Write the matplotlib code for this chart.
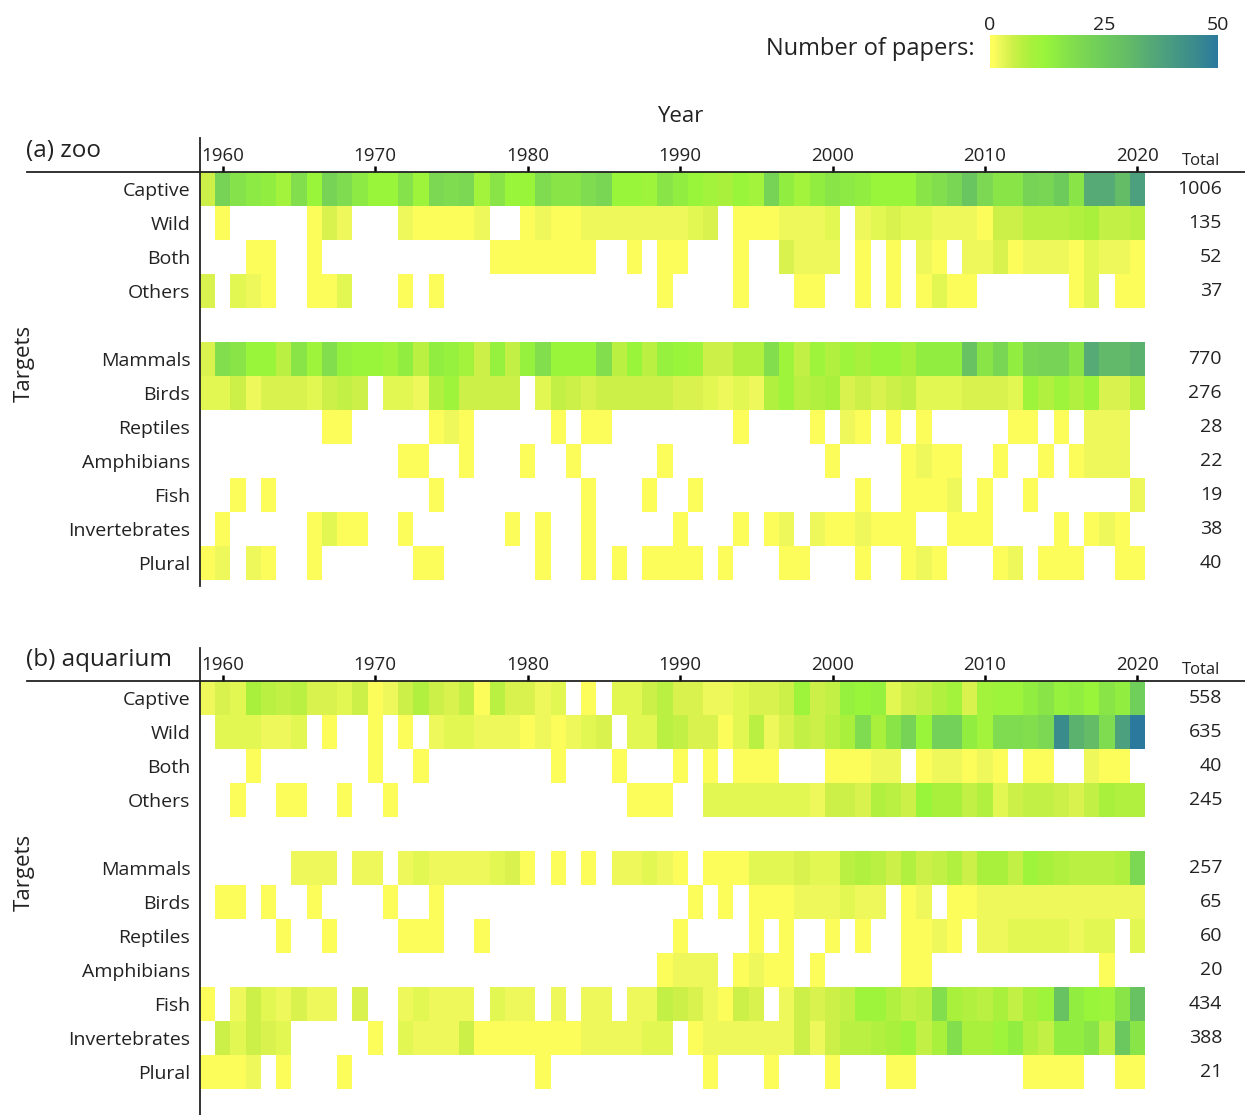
import numpy as np
import matplotlib.pyplot as plt
from matplotlib.colors import LinearSegmentedColormap, Normalize
from matplotlib.cm import ScalarMappable
from matplotlib.lines import Line2D

plt.rcParams['font.family'] = ['Open Sans', 'DejaVu Sans']

years = list(range(1959, 2021))
year_ticks = [1960, 1970, 1980, 1990, 2000, 2010, 2020]
context_labels = ['Captive', 'Wild', 'Both', 'Others']
taxon_labels = ['Mammals', 'Birds', 'Reptiles', 'Amphibians', 'Fish',
                'Invertebrates', 'Plural']

# papers per year, 1959-2020 (zoo)
zoo_captive = [5, 22, 17, 15, 14, 10, 18, 12, 22, 19, 15, 12, 12, 17, 11, 20, 19, 20, 10, 16, 12, 12, 19, 16, 16, 19, 21, 12, 12, 11, 16,
               14, 12, 10, 9, 12, 10, 22, 14, 10, 14, 16, 15, 14, 12, 12, 12, 16, 18, 21, 27, 20, 16, 16, 22, 21, 25, 16, 35, 35, 30, 38]
zoo_wild = [0, 1, 0, 0, 0, 0, 0, 1, 4, 2, 0, 0, 0, 2, 1, 1, 1, 1, 2, 0, 0, 1, 2, 1, 1, 2, 2, 2, 2, 2, 2,
            2, 3, 4, 0, 1, 1, 1, 2, 2, 2, 3, 0, 2, 3, 4, 3, 3, 2, 2, 2, 1, 5, 5, 7, 7, 7, 8, 9, 6, 6, 7]
zoo_both = [0, 0, 0, 1, 1, 0, 0, 1, 0, 0, 0, 0, 0, 0, 0, 0, 0, 0, 0, 1, 1, 1, 1, 1, 1, 1, 0, 0, 1, 0, 1,
            1, 0, 0, 0, 1, 0, 0, 4, 2, 2, 2, 0, 1, 0, 1, 0, 2, 1, 0, 2, 2, 4, 1, 2, 2, 2, 1, 3, 2, 2, 1]
zoo_others = [4, 0, 3, 2, 1, 0, 0, 1, 1, 3, 0, 0, 0, 1, 0, 1, 0, 0, 0, 0, 0, 0, 0, 0, 0, 0, 0, 0, 0, 0, 1,
              0, 0, 0, 0, 1, 0, 0, 0, 1, 1, 0, 0, 1, 0, 1, 0, 1, 3, 1, 1, 0, 0, 0, 0, 0, 0, 1, 3, 0, 1, 1]
zoo_mammals = [4, 18, 16, 12, 12, 7, 16, 11, 18, 13, 12, 12, 10, 14, 7, 14, 13, 10, 5, 13, 6, 13, 18, 12, 12, 12, 18, 7, 12, 7, 13,
               12, 11, 5, 5, 8, 8, 18, 11, 6, 11, 8, 11, 9, 12, 12, 9, 14, 14, 14, 28, 16, 21, 14, 21, 22, 22, 16, 35, 31, 31, 33]
zoo_birds = [3, 3, 5, 2, 4, 4, 4, 3, 5, 6, 5, 0, 3, 3, 2, 8, 11, 5, 5, 5, 5, 0, 3, 6, 5, 4, 5, 5, 5, 5, 5,
             4, 4, 3, 2, 3, 2, 8, 11, 7, 8, 9, 4, 5, 4, 5, 6, 3, 3, 3, 4, 4, 4, 3, 11, 8, 11, 8, 11, 4, 4, 7]
zoo_reptiles = [0, 0, 0, 0, 0, 0, 0, 0, 1, 1, 0, 0, 0, 0, 0, 1, 2, 1, 0, 0, 0, 0, 0, 1, 0, 1, 1, 0, 0, 0, 0,
                0, 0, 0, 0, 1, 0, 0, 0, 0, 1, 0, 2, 1, 0, 1, 0, 1, 0, 0, 0, 0, 0, 1, 1, 0, 1, 0, 2, 2, 2, 0]
zoo_amphibians = [0, 0, 0, 0, 0, 0, 0, 0, 0, 0, 0, 0, 0, 1, 1, 0, 0, 1, 0, 0, 0, 1, 0, 0, 1, 0, 0, 0, 0, 0, 1,
                  0, 0, 0, 0, 0, 0, 0, 0, 0, 0, 1, 0, 0, 0, 0, 1, 2, 1, 1, 0, 0, 1, 0, 0, 1, 0, 1, 2, 2, 2, 0]
zoo_fish = [0, 0, 1, 0, 1, 0, 0, 0, 0, 0, 0, 0, 0, 0, 0, 1, 0, 0, 0, 0, 0, 0, 0, 0, 0, 1, 0, 0, 0, 1, 0,
            0, 1, 0, 0, 0, 0, 0, 0, 0, 0, 0, 0, 1, 0, 0, 1, 1, 1, 2, 0, 1, 0, 0, 1, 0, 0, 0, 0, 0, 0, 2]
zoo_invertebrates = [0, 1, 0, 0, 0, 0, 0, 1, 3, 1, 1, 0, 0, 1, 0, 0, 0, 0, 0, 0, 1, 0, 1, 0, 0, 1, 0, 0, 0, 0, 0,
                     1, 0, 0, 0, 1, 0, 1, 2, 0, 2, 1, 1, 2, 1, 1, 1, 0, 0, 1, 1, 1, 0, 0, 0, 0, 1, 0, 1, 2, 1, 0]
zoo_plural = [1, 2, 0, 2, 1, 0, 0, 1, 0, 0, 0, 0, 0, 0, 1, 1, 0, 0, 0, 0, 0, 0, 1, 0, 0, 1, 0, 1, 0, 1, 1,
              1, 1, 0, 1, 0, 0, 0, 1, 1, 0, 0, 0, 1, 0, 0, 1, 2, 1, 0, 0, 0, 1, 2, 0, 1, 1, 1, 0, 0, 1, 1]
zoo_totals = [1006, 135, 52, 37, 770, 276, 28, 22, 19, 38, 40]

# papers per year, 1959-2020 (aquarium)
aq_captive = [2, 4, 3, 9, 7, 6, 7, 4, 4, 3, 5, 1, 2, 5, 8, 5, 4, 6, 1, 7, 4, 4, 2, 3, 0, 1, 0, 3, 3, 5, 7,
              4, 4, 2, 2, 3, 4, 4, 5, 11, 5, 6, 13, 12, 13, 3, 5, 6, 8, 10, 4, 10, 11, 11, 14, 16, 13, 14, 12, 16, 14, 24]
aq_wild = [0, 3, 3, 3, 2, 2, 3, 0, 1, 0, 0, 1, 0, 1, 0, 2, 3, 3, 2, 2, 2, 1, 2, 1, 2, 3, 4, 0, 3, 3, 7,
           6, 4, 4, 1, 3, 7, 2, 4, 6, 5, 7, 9, 19, 9, 16, 22, 12, 23, 23, 14, 10, 19, 19, 18, 20, 45, 33, 30, 19, 38, 50]
aq_both = [0, 0, 0, 1, 0, 0, 0, 0, 0, 0, 0, 1, 0, 0, 1, 0, 0, 0, 0, 0, 0, 0, 0, 1, 0, 0, 0, 1, 0, 0, 0,
           1, 0, 1, 0, 1, 1, 1, 0, 0, 0, 1, 1, 1, 2, 2, 0, 1, 2, 2, 1, 2, 1, 0, 1, 1, 0, 0, 2, 1, 1, 0]
aq_others = [0, 0, 1, 0, 0, 1, 1, 0, 0, 1, 0, 0, 1, 0, 0, 0, 0, 0, 0, 0, 0, 0, 0, 0, 0, 0, 0, 0, 1, 1, 1,
             0, 0, 3, 3, 3, 3, 3, 3, 3, 2, 5, 5, 4, 8, 7, 5, 12, 9, 9, 6, 8, 3, 5, 6, 6, 5, 4, 6, 9, 8, 8]
aq_mammals = [0, 0, 0, 0, 0, 0, 2, 2, 2, 0, 2, 2, 0, 2, 3, 2, 2, 2, 2, 3, 4, 1, 0, 1, 0, 1, 0, 2, 2, 3, 2,
              1, 0, 1, 1, 1, 3, 3, 3, 4, 3, 3, 7, 8, 7, 5, 8, 5, 6, 8, 5, 9, 9, 6, 11, 9, 8, 7, 7, 7, 8, 20]
aq_birds = [0, 1, 1, 0, 1, 0, 0, 1, 0, 0, 0, 0, 1, 0, 0, 1, 0, 0, 0, 0, 0, 0, 0, 0, 0, 0, 0, 0, 0, 0, 0,
            0, 1, 0, 1, 0, 1, 1, 1, 2, 2, 2, 3, 2, 2, 0, 1, 2, 0, 1, 1, 2, 2, 2, 2, 2, 2, 2, 2, 2, 2, 2]
aq_reptiles = [0, 0, 0, 0, 0, 1, 0, 0, 1, 0, 0, 0, 0, 1, 1, 1, 0, 0, 1, 0, 0, 0, 0, 0, 0, 0, 0, 0, 0, 0, 0,
               1, 0, 0, 0, 0, 1, 0, 1, 0, 0, 1, 0, 1, 0, 0, 1, 1, 2, 1, 0, 2, 2, 3, 3, 3, 3, 2, 3, 3, 0, 3]
aq_amphibians = [0, 0, 0, 0, 0, 0, 0, 0, 0, 0, 0, 0, 0, 0, 0, 0, 0, 0, 0, 0, 0, 0, 0, 0, 0, 0, 0, 0, 0, 0, 1,
                 2, 2, 2, 0, 1, 2, 1, 1, 0, 1, 0, 0, 0, 0, 0, 1, 1, 0, 0, 0, 0, 0, 0, 0, 0, 0, 0, 0, 1, 0, 0]
aq_fish = [1, 0, 2, 5, 3, 2, 4, 2, 2, 0, 4, 0, 0, 2, 3, 2, 2, 2, 0, 3, 2, 2, 0, 2, 0, 2, 2, 0, 2, 2, 6,
           5, 4, 2, 1, 5, 4, 0, 2, 5, 4, 5, 6, 11, 11, 8, 6, 7, 18, 9, 8, 7, 9, 6, 9, 11, 28, 14, 12, 11, 16, 28]
aq_invertebrates = [0, 5, 3, 5, 4, 3, 0, 0, 0, 0, 0, 1, 0, 3, 2, 2, 2, 5, 1, 1, 1, 1, 1, 1, 1, 2, 2, 2, 2, 3, 3,
                    0, 1, 2, 2, 2, 2, 2, 2, 5, 2, 5, 7, 7, 8, 9, 11, 6, 9, 18, 9, 9, 11, 14, 8, 6, 14, 14, 16, 7, 26, 16]
aq_plural = [1, 1, 1, 2, 0, 1, 0, 0, 0, 1, 0, 0, 0, 0, 0, 0, 0, 0, 0, 0, 0, 0, 1, 0, 0, 0, 0, 0, 0, 0, 0,
             0, 0, 1, 0, 0, 0, 1, 0, 0, 0, 1, 0, 0, 0, 1, 1, 0, 0, 0, 0, 0, 0, 0, 1, 1, 1, 1, 0, 0, 1, 1]
aq_totals = [558, 635, 40, 245, 257, 65, 60, 20, 434, 388, 21]

zoo_rows = [zoo_captive, zoo_wild, zoo_both, zoo_others, zoo_mammals, zoo_birds,
            zoo_reptiles, zoo_amphibians, zoo_fish, zoo_invertebrates, zoo_plural]
aq_rows = [aq_captive, aq_wild, aq_both, aq_others, aq_mammals, aq_birds,
           aq_reptiles, aq_amphibians, aq_fish, aq_invertebrates, aq_plural]

cmap = LinearSegmentedColormap.from_list('papers', [
    (0.00, '#ffff5e'), (0.02, '#fcfc5a'), (0.04, '#eef85a'), (0.06, '#e2f752'),
    (0.08, '#d8f24e'), (0.10, '#ccf048'), (0.14, '#b8f040'), (0.18, '#a8f03c'),
    (0.24, '#99f53a'), (0.32, '#88e547'), (0.40, '#7cd852'), (0.50, '#6dcb5c'),
    (0.60, '#64bd66'), (0.70, '#55aa75'), (0.80, '#489a82'), (0.90, '#3a8b8c'),
    (1.00, '#2b7a9d')])
norm = Normalize(vmin=0, vmax=50)

W, H = 1245, 1115
ROW = 34
fig = plt.figure(figsize=(W / 100, H / 100), dpi=100)


def px_box(left, top, right, bottom):
    return [left / W, 1 - bottom / H, (right - left) / W, (bottom - top) / H]


def hline(x0, x1, y, lw=1.3):
    fig.add_artist(Line2D([x0 / W, x1 / W], [1 - y / H, 1 - y / H], color='#222222', lw=lw))


def vline(x, y0, y1, lw=1.3):
    fig.add_artist(Line2D([x / W, x / W], [1 - y0 / H, 1 - y1 / H], color='#222222', lw=lw))


def draw_panel(top, rows, totals, title, spine_top, spine_bottom):
    ax = fig.add_axes(px_box(200, top, 1145, top + 12 * ROW))
    # 4 context rows, one blank row, then 7 taxon rows
    grid = np.full((12, len(years)), np.nan)
    for i, r in enumerate(rows):
        grid[i if i < 4 else i + 1] = r
    grid[grid <= 0] = np.nan
    x_edges = np.arange(years[0] - 0.5, years[-1] + 1.5)
    ax.pcolormesh(x_edges, np.arange(13), grid, cmap=cmap, norm=norm)
    ax.set_xlim(x_edges[0], x_edges[-1])
    ax.set_ylim(12, 0)
    for s in ax.spines.values():
        s.set_visible(False)

    centers = [0.5, 1.5, 2.5, 3.5] + [5.5 + k for k in range(7)]
    ax.set_yticks(centers)
    ax.set_yticklabels(context_labels + taxon_labels)
    ax.tick_params(axis='y', length=0, pad=7, labelsize=14, labelcolor='#222222')

    ax.xaxis.tick_top()
    ax.set_xticks(year_ticks)
    ax.set_xticklabels([str(y) for y in year_ticks])
    ax.tick_params(axis='x', length=4, width=1.8, pad=1, labelsize=13.5,
                   direction='out', labelcolor='#222222')

    tr = ax.get_yaxis_transform()
    for c, t in zip(centers, totals):
        ax.text(1.0815, c, str(t), transform=tr, ha='right', va='center',
                fontsize=14, color='#222222', clip_on=False)
    ax.text(1.0795, -0.33, 'Total', transform=tr, ha='right', va='center',
            fontsize=12, color='#222222', clip_on=False)

    hline(27, 1245, top)
    vline(200, spine_top, spine_bottom)
    fig.text(26 / W, 1 - (top - 21) / H, title, fontsize=17.5, va='center',
             ha='left', color='#222222')
    fig.text(24 / W, 1 - (top + 191) / H, 'Targets', fontsize=16,
             rotation=90, ha='center', va='center', color='#222222')
    return ax


draw_panel(172, zoo_rows, zoo_totals, '(a) zoo', 138, 586)
draw_panel(681, aq_rows, aq_totals, '(b) aquarium', 648, 1115)

fig.text(680 / W, 1 - 117 / H, 'Year', fontsize=16, ha='center', va='center',
         color='#222222')

cax = fig.add_axes(px_box(990, 35, 1218, 68))
cb = fig.colorbar(ScalarMappable(norm=norm, cmap=cmap), cax=cax,
                  orientation='horizontal', ticks=[0, 25, 50])
cb.outline.set_visible(False)
cax.xaxis.set_ticks_position('top')
cax.tick_params(length=0, labelsize=14, pad=1, labelcolor='#222222')
fig.text(975 / W, 1 - 49 / H, 'Number of papers:', fontsize=17, ha='right',
         va='center', color='#222222')

fig.savefig('out.png', dpi=100)
